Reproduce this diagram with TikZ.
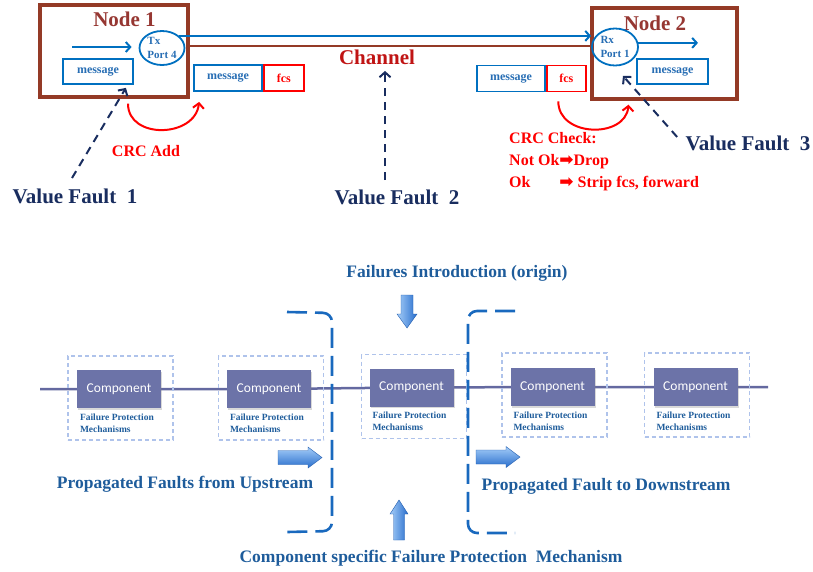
\documentclass[tikz,border=0pt]{standalone}
\usepackage{fontspec}
\setmainfont{Liberation Serif}
\newfontfamily\carlito{Carlito}
\newfontfamily\djv{DejaVu Sans}
\usetikzlibrary{arrows.meta,shapes.geometric,backgrounds,shadows}
\definecolor{brn}{RGB}{148,58,38}
\definecolor{ntred}{RGB}{150,55,50}
\definecolor{ofblue}{RGB}{0,112,192}
\definecolor{msgblue}{RGB}{40,110,180}
\definecolor{chanred}{RGB}{192,20,20}
\definecolor{navy}{RGB}{25,45,95}
\definecolor{botblue}{RGB}{30,92,155}
\definecolor{compfill}{RGB}{108,115,168}
\definecolor{dashbox}{RGB}{175,195,235}
\definecolor{brkblue}{RGB}{25,105,190}
\definecolor{linecol}{RGB}{100,105,160}
\definecolor{arrlight}{RGB}{165,205,248}
\definecolor{arrdark}{RGB}{40,110,205}
\tikzset{
  nodebox/.style={draw=brn, line width=3.4pt, inner sep=0pt},
  titlestyle/.style={text=ntred, font=\fontsize{21}{24}\selectfont\bfseries},
  port/.style={ellipse, draw=ofblue, line width=1.8pt, inner sep=-6pt, align=left, text=msgblue, font=\fontsize{11}{14}\selectfont\bfseries},
  msgbox/.style={draw=ofblue, line width=1.8pt, text=msgblue, minimum height=25pt, inner sep=0pt, font=\fontsize{12}{14}\selectfont\bfseries},
  fcsbox/.style={draw=red, line width=1.8pt, text=red, minimum height=26pt, inner sep=0pt, font=\fontsize{12}{14}\selectfont\bfseries},
  brownline/.style={brn, line width=2pt},
  bluearrow/.style={ofblue, line width=2pt, -{Straight Barb[length=4.5pt,width=10pt]}},
  redcurve/.style={red, line width=2pt, -{Straight Barb[length=5pt,width=11pt]}},
  faultarrow/.style={navy, line width=2pt, dash pattern=on 8pt off 6pt, -{Straight Barb[length=5pt,width=11pt]}},
  faulttext/.style={text=navy, font=\fontsize{21}{24}\selectfont\bfseries},
  chan/.style={text=chanred, font=\fontsize{21}{24}\selectfont\bfseries},
  redtext/.style={text=red, font=\fontsize{16}{22}\selectfont\bfseries},
  comp/.style={fill=compfill, text=white, minimum width=84pt, minimum height=38pt, inner sep=0pt, font=\carlito\fontsize{13.5}{15}\selectfont, drop shadow={opacity=0.3, shadow xshift=1pt, shadow yshift=-1.5pt}},
  fpbox/.style={draw=dashbox, dash pattern=on 4pt off 3pt, line width=1.2pt, minimum width=105pt, minimum height=84pt, inner sep=0pt},
  fptext/.style={text=botblue, align=left, font=\fontsize{9.5}{12}\selectfont\bfseries, inner sep=0pt, anchor=north west},
  bottext/.style={text=botblue, font=\fontsize{17.5}{20}\selectfont\bfseries},
  bracket/.style={brkblue, line width=2.6pt, dash pattern=on 20pt off 8pt, rounded corners=9pt},
  compline/.style={linecol, line width=2.5pt},
  blockarr/.style={draw=arrdark!85!black, line width=0.4pt, top color=arrlight, bottom color=arrdark},
  blockarrv/.style={draw=arrdark!85!black, line width=0.4pt, left color=arrlight, right color=arrdark}
}
\newcommand\fatarrow{{\djv\fontsize{17}{22}\selectfont ➡}}
\begin{document}
\begin{tikzpicture}[x=1pt,y=-1pt]
\useasboundingbox (0,0) rectangle (813,571);
% ---------- Node 1 ----------
\node[nodebox, minimum width=148pt, minimum height=92pt] (n1) at (114,51) {};
\node[titlestyle] (t1) at (124.5,19) {Node 1};
\node[port, minimum width=45pt, minimum height=34pt] (tx) at (162,48) {Tx\\Port 4};
\node[msgbox, minimum width=70pt] (m1) at (98,71.5) {message};
\coordinate (a1) at (72,47);
\draw[bluearrow, shorten >=7pt] (a1) -- (a1 -| tx.west);
% ---------- Node 2 ----------
\node[nodebox, minimum width=145pt, minimum height=91pt] (n2) at (664.5,53.5) {};
\node[titlestyle] (t2) at (655,23) {Node 2};
\node[port, minimum width=46pt, minimum height=37pt] (rx) at (615,47) {Rx\\Port 1};
\node[msgbox, minimum width=71pt] (m2) at (672.5,71.5) {message};
\coordinate (a2) at (698,43);
\draw[bluearrow] (rx.10) -- (rx.10 -| a2);
% ---------- channel ----------
\draw[bluearrow] (tx.35) -- (tx.35 -| rx.west);
\draw[brownline] ([yshift=5pt]n1.east) -- ([yshift=5pt]n1.east -| n2.west);
\node[chan] (ch) at (377,57) {Channel};
% ---------- frames ----------
\node[msgbox, minimum width=68pt, minimum height=26pt] (lm) at (228,78) {message};
\node[fcsbox, minimum width=40pt, anchor=west] (lf) at (lm.east) {fcs};
\node[msgbox, minimum width=68pt, minimum height=26pt] (rm) at (511,78.5) {message};
\node[fcsbox, minimum width=39pt, anchor=west] (rf) at (rm.east) {fcs};
% ---------- CRC ----------
\draw[redcurve] ([xshift=14pt,yshift=-5pt]n1.south) .. controls +(0,36) and +(-4,36) .. ([xshift=6pt,yshift=-10pt]lm.south west);
\node[redtext] (crcadd) at (146,151) {CRC Add};
\draw[redcurve] ([xshift=-8pt,yshift=-9pt]rf.south) .. controls +(0,36) and +(-3,34) .. ([xshift=-36pt,yshift=-4pt]n2.south);
\node[redtext, anchor=north west, inner sep=0pt] (crc) at (509,128) {\begin{tabular}{@{}l@{}l@{}}\multicolumn{2}{@{}l@{}}{CRC Check:}\\ Not Ok&\fatarrow Drop\\ Ok&\fatarrow\ Strip fcs, forward\end{tabular}};
% ---------- faults ----------
\node[faulttext] (vf1) at (75,196) {Value Fault\ \ 1};
\draw[faultarrow] ([xshift=-3pt,yshift=7pt]vf1.north) -- ([xshift=-8pt,yshift=-3pt]m1.south east);
\node[faulttext] (vf2) at (397,197) {Value Fault\ \ 2};
\draw[faultarrow, shorten <=6pt, shorten >=3pt] ([xshift=-12pt]vf2.north) -- ([xshift=-12pt]vf2.north |- ch.south);
\node[faulttext] (vf3) at (748,143) {Value Fault\ \ 3};
\draw[faultarrow] ([xshift=-5pt,yshift=6pt]vf3.west) -- ([xshift=8pt,yshift=-9.5pt]rx.south);
% ---------- bottom ----------
\node[fpbox] (d1) at (120.5,398) {};
\node[fpbox] (d2) at (271,398) {};
\node[fpbox] (d3) at (414,396.5) {};
\node[fpbox] (d4) at (554.5,395) {};
\node[fpbox] (d5) at (697,395) {};
\node[comp] (c1) at (119,389) {Component};
\node[comp] (c2) at (269,389) {Component};
\node[comp] (c3) at (411.5,387.5) {Component};
\node[comp] (c4) at (552.5,387) {Component};
\node[comp] (c5) at (695.5,387) {Component};
\foreach \c in {1,...,5}{
  \node[fptext] (f\c) at ([xshift=3pt,yshift=-5pt]c\c.south west) {Failure Protection\\Mechanisms};
}
\coordinate (ls) at (40,389);
\coordinate (le) at (768,387);
\begin{scope}[on background layer]
\draw[compline] (ls) -- (c1.center) -- (c2.center) -- (c3.center) -- (c4.center) -- (c5.center) -- (le);
\end{scope}
% brackets
\draw[bracket] (287,312) -- (332,313) -- (332,531) -- (287,532);
\draw[bracket] (515,311) -- (468,311) -- (468,533) -- (515,533);
% block arrows
\path[blockarr] (278,450.5) -- (308,450.5) -- (308,447) -- (322,457.5) -- (308,468) -- (308,464.5) -- (278,464.5) -- cycle;
\path[blockarr] (476,450) -- (506,450) -- (506,446.5) -- (520,457) -- (506,467.5) -- (506,464) -- (476,464) -- cycle;
\path[blockarrv] (401,295) -- (413,295) -- (413,314) -- (417,314) -- (407,328) -- (397,314) -- (401,314) -- cycle;
\path[blockarrv] (399,500) -- (408,514) -- (404.5,514) -- (404.5,540) -- (393.5,540) -- (393.5,514) -- (390,514) -- cycle;
% texts
\node[bottext] (fi) at (457,273) {Failures Introduction (origin)};
\node[bottext] (pu) at (185,484) {Propagated Faults from Upstream};
\node[bottext] (pd) at (606,486) {Propagated Fault to Downstream};
\node[bottext] (cs) at (431,558) {Component specific Failure Protection\ \ Mechanism};
\end{tikzpicture}
\end{document}
